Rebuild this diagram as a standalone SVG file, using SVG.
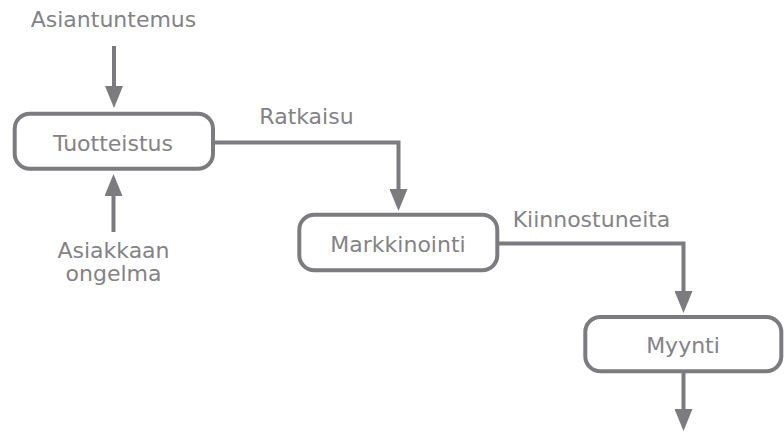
<svg xmlns="http://www.w3.org/2000/svg" width="784" height="432" viewBox="0 0 784 432">
  <style>
    .box { fill: #ffffff; stroke: #7c7c80; stroke-width: 4; }
    .lbl { font-family: "DejaVu Sans", Verdana, sans-serif; font-size: 22px; fill: #838386; text-anchor: middle; }
    .conn { fill: none; stroke: #7c7c80; stroke-width: 4; stroke-linejoin: miter; }
  </style>
  <defs>
    <marker id="ah" markerUnits="userSpaceOnUse" markerWidth="22" markerHeight="18" viewBox="0 0 22 18" refX="0" refY="9" orient="auto">
      <path d="M0,0 L22,9 L0,18 Z" fill="#7c7c80"/>
    </marker>
  </defs>
  <rect width="784" height="432" fill="#ffffff"/>

  <g id="connectors">
    <path class="conn" d="M114,46 V86" marker-end="url(#ah)"/>
    <path class="conn" d="M113.5,232 V196" marker-end="url(#ah)"/>
    <path class="conn" d="M215,142.5 H398.5 V189" marker-end="url(#ah)"/>
    <path class="conn" d="M499,243.5 H683.5 V291" marker-end="url(#ah)"/>
    <path class="conn" d="M683.5,373 V409" marker-end="url(#ah)"/>
  </g>

  <g id="label-asiantuntemus">
    <text class="lbl" x="113.5" y="26.5">Asiantuntemus</text>
  </g>
  <g id="label-asiakkaan-ongelma">
    <text class="lbl" x="113.5" y="258">Asiakkaan</text>
    <text class="lbl" x="113.5" y="281">ongelma</text>
  </g>
  <g id="label-ratkaisu">
    <text class="lbl" x="306.5" y="124">Ratkaisu</text>
  </g>
  <g id="label-kiinnostuneita">
    <text class="lbl" x="591.5" y="226.5">Kiinnostuneita</text>
  </g>

  <g id="node-tuotteistus">
    <rect class="box" x="14.7" y="113.7" width="198.3" height="55" rx="15" ry="15"/>
    <text class="lbl" x="113" y="150.5">Tuotteistus</text>
  </g>
  <g id="node-markkinointi">
    <rect class="box" x="299.3" y="214.7" width="198" height="55.6" rx="15" ry="15"/>
    <text class="lbl" x="398" y="251.5">Markkinointi</text>
  </g>
  <g id="node-myynti">
    <rect class="box" x="585.3" y="317" width="196" height="54.3" rx="15" ry="15"/>
    <text class="lbl" x="683" y="352.5">Myynti</text>
  </g>
</svg>
